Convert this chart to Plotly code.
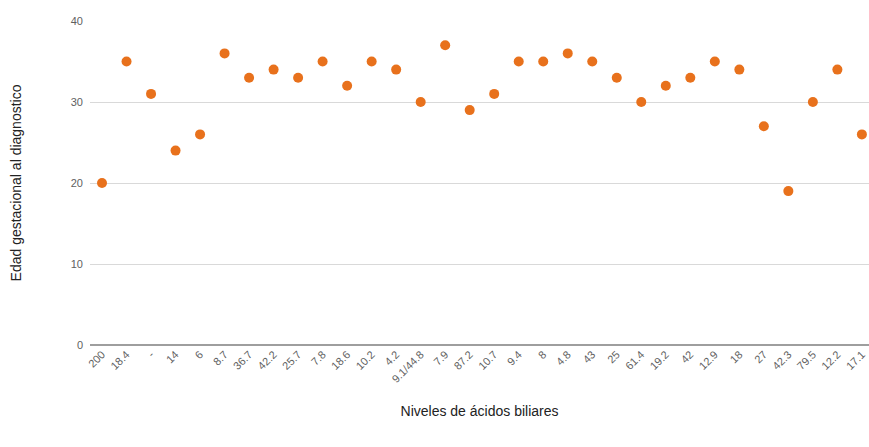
import plotly.graph_objects as go

# Bile acid levels (category labels) and gestational age at diagnosis
niveles = [
    "200", "18.4", "-", "14", "6", "8.7", "36.7", "42.2", "25.7", "7.8",
    "18.6", "10.2", "4.2", "9.1/44.8", "7.9", "87.2", "10.7", "9.4", "8", "4.8",
    "43", "25", "61.4", "19.2", "42", "12.9", "18", "27", "42.3", "79.5",
    "12.2", "17.1",
]
edad = [
    20, 35, 31, 24, 26, 36, 33, 34, 33, 35,
    32, 35, 34, 30, 37, 29, 31, 35, 35, 36,
    35, 33, 30, 32, 33, 35, 34, 27, 19, 30,
    34, 26,
]
y_ticks = [0, 10, 20, 30, 40]

ORANGE = "#E8711C"
GRID = "#D9D9D9"
TICK = "#5F5F5F"

fig = go.Figure(
    go.Scatter(
        x=niveles,
        y=edad,
        mode="markers",
        marker=dict(size=10, color=ORANGE),
        cliponaxis=False,
        showlegend=False,
    )
)

fig.update_layout(
    width=869,
    height=447,
    margin=dict(l=90, r=0, t=21, b=102),
    paper_bgcolor="white",
    plot_bgcolor="white",
    font=dict(family="Arial, Liberation Sans, sans-serif", color=TICK),
    xaxis=dict(
        type="category",
        range=[-0.49, 31.29],
        tickangle=-45,
        tickfont=dict(size=11, color=TICK),
        showgrid=False,
        showline=False,
        ticks="",
        title=dict(text="Niveles de ácidos biliares", font=dict(size=14, color="#222222"), standoff=22),
        automargin=False,
    ),
    yaxis=dict(
        range=[0, 40],
        tickvals=y_ticks,
        tickfont=dict(size=11, color=TICK),
        showgrid=True,
        gridcolor=GRID,
        gridwidth=1,
        zeroline=True,
        zerolinecolor="#9E9E9E",
        zerolinewidth=2,
        ticks="",
        ticklabelstandoff=6,
        title=dict(text="Edad gestacional al diagnostico", font=dict(size=14, color="#222222"), standoff=45),
        automargin=False,
    ),
)

# drop the default page margin so the figure fills the window exactly
fig.write_html(
    "out.html",
    config={"displayModeBar": False},
    post_script="document.body.style.margin = '0';",
)
